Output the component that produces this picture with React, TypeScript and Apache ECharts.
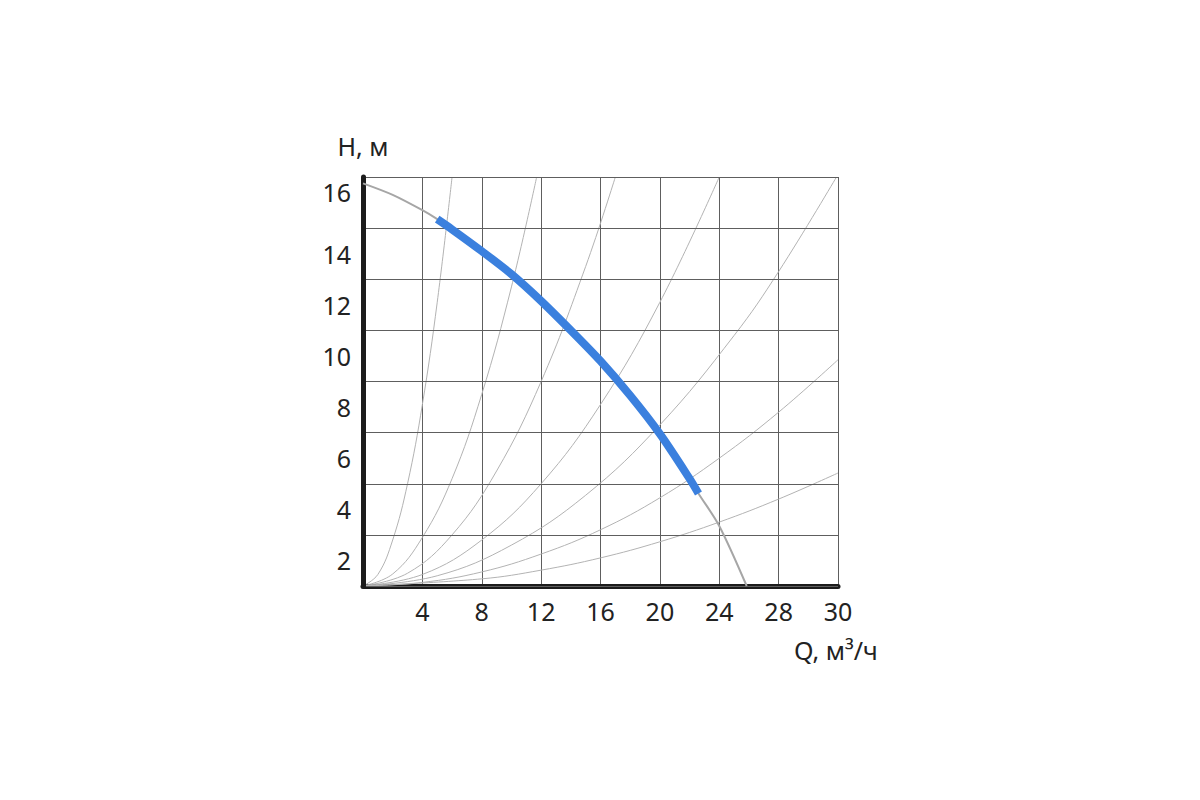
import React, { useEffect, useRef } from "react";
import * as echarts from "echarts";

// Axis tick labels (as printed on the chart)
const xTickLabels = ["", "4", "8", "12", "16", "20", "24", "28", "30"]; // at Q = 0,4,...,32
const yTickLabels = ["2", "4", "6", "8", "10", "12", "14", "16"]; // at H = 1,3,...,15

// Pump curve Q (m3/h) -> H (m)
const pumpQ = [0, 2, 4, 5, 6, 8, 10, 12, 14, 16, 18, 20, 22, 22.6, 24, 25.85];
const pumpH = [15.75, 15.3, 14.7, 14.35, 13.95, 13.1, 12.2, 11.15, 10.0, 8.8, 7.45, 5.95, 4.2, 3.62, 2.35, 0];
// Working range (blue) Q limits
const workQmin = 5;
const workQmax = 22.6;

// System characteristic curves
const sysA = [[0, 0], [1, 0.45], [2, 1.8], [3, 4.0], [4, 7.1], [5, 11.1], [6, 16]];
const sysB = [[0, 0], [2, 0.47], [4, 1.9], [6, 4.2], [8, 7.5], [10, 11.7], [11.7, 16]];
const sysC = [[0, 0], [3, 0.5], [6, 2.0], [9, 4.5], [12, 8.0], [15, 12.5], [17, 16]];
const sysD = [[0, 0], [4, 0.45], [8, 1.8], [12, 4.0], [16, 7.1], [20, 11.1], [24, 16]];
const sysE = [[0, 0], [5, 0.4], [10, 1.6], [15, 3.55], [20, 6.3], [25, 9.8], [28, 12.3], [31.9, 16]];
const sysF = [[0, 0], [4, 0.14], [8, 0.55], [12, 1.25], [16, 2.2], [20, 3.45], [24, 5.0], [28, 6.8], [32, 8.85]];
const sysG = [[0, 0], [8, 0.28], [12, 0.62], [16, 1.1], [20, 1.73], [24, 2.5], [28, 3.4], [32, 4.42]];
const systemCurves = [sysA, sysB, sysC, sysD, sysE, sysF, sysG];

const FONT = "Noto Sans";

export default function App() {
  const ref = useRef<HTMLDivElement>(null);
  useEffect(() => {
    if (!ref.current) return;
    const chart = echarts.init(ref.current, undefined, { renderer: "svg" });
    const pumpData = pumpQ.map((q, i) => [q, pumpH[i]]);
    const workData = pumpData.filter((p) => p[0] >= workQmin && p[0] <= workQmax);

    const sysSeries = systemCurves.map((c) => ({
      type: "line",
      data: c,
      smooth: 0.4,
      showSymbol: false,
      silent: true,
      clip: true,
      lineStyle: { color: "#b3b3b3", width: 1 },
      z: 2,
    }));

    chart.setOption({
      animation: false,
      backgroundColor: "#ffffff",
      grid: { left: 363, right: 362, top: 177, bottom: 214, containLabel: false },
      xAxis: {
        type: "value",
        min: 0,
        max: 32,
        interval: 4,
        name: "Q, м³/ч",
        nameLocation: "end",
        nameGap: -44,
        nameTextStyle: {
          fontFamily: FONT,
          fontSize: 25,
          color: "#222",
          align: "left",
          verticalAlign: "top",
          padding: [51, 0, 0, 0],
        },
        axisLine: { show: true, onZero: false, lineStyle: { color: "#1c1c1c", width: 5 } },
        axisTick: { show: false },
        axisLabel: {
          margin: 12,
          fontFamily: FONT,
          fontSize: 25,
          color: "#222",
          formatter: (v: number) => xTickLabels[Math.round(v / 4)] ?? "",
        },
        splitLine: { show: true, lineStyle: { color: "#5e5e5e", width: 1 } },
      },
      yAxis: [
        {
          type: "value",
          min: 0,
          max: 16,
          interval: 2,
          name: "H, м",
          nameLocation: "end",
          nameGap: 19,
          nameTextStyle: { fontFamily: FONT, fontSize: 25, color: "#222", align: "center" },
          axisLine: { show: true, onZero: false, lineStyle: { color: "#1c1c1c", width: 5 } },
          axisTick: { show: false },
          axisLabel: { show: false },
          splitLine: { show: true, lineStyle: { color: "#5e5e5e", width: 1 } },
          z: 3,
        },
        {
          type: "value",
          position: "left",
          min: 0,
          max: 16,
          interval: 1,
          axisLine: { show: false },
          axisTick: { show: false },
          splitLine: { show: false },
          axisLabel: {
            margin: 12,
            fontFamily: FONT,
            fontSize: 25,
            color: "#222",
            formatter: (v: number) => {
              if (v % 2 !== 1) return "";
              const idx = (v - 1) / 2;
              const t = yTickLabels[idx];
              return idx === yTickLabels.length - 1 ? "{top|" + t + "}" : t;
            },
            rich: {
              top: { fontFamily: FONT, fontSize: 25, color: "#222", padding: [0, 0, 22, 0] },
            },
          },
        },
      ],
      series: [
        ...sysSeries,
        {
          type: "line",
          data: pumpData,
          smooth: 0.3,
          showSymbol: false,
          silent: true,
          lineStyle: { color: "#a6a6a6", width: 2 },
          z: 3,
        },
        {
          type: "line",
          data: workData,
          smooth: 0.3,
          showSymbol: false,
          silent: true,
          lineStyle: { color: "#3b80de", width: 8, cap: "butt" },
          z: 4,
        },
      ],
    });
    return () => chart.dispose();
  }, []);
  return (
    <div
      ref={ref}
      style={{ position: "fixed", left: 0, top: 0, width: 1200, height: 800 }}
    />
  );
}
